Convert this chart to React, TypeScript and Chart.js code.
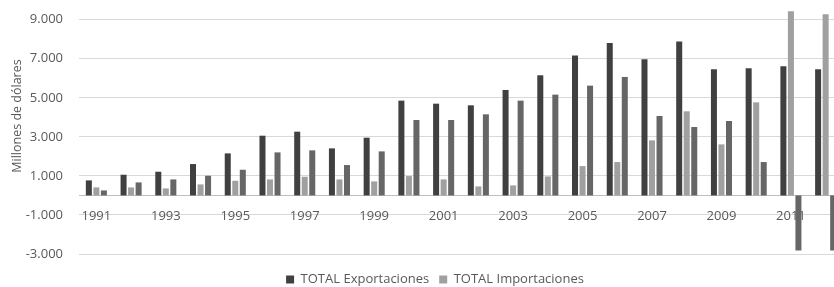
import React, { useEffect, useRef } from 'react';
import { Chart, registerables } from 'chart.js';

Chart.register(...registerables);

const YEARS = ['1991', '1992', '1993', '1994', '1995', '1996', '1997', '1998', '1999', '2000', '2001', '2002', '2003', '2004', '2005', '2006', '2007', '2008', '2009', '2010', '2011', '2012'];
const EXPORTACIONES = [770, 1060, 1214, 1607, 2154, 3060, 3265, 2410, 2957, 4855, 4700, 4615, 5402, 6154, 7162, 7812, 6974, 7880, 6462, 6513, 6615, 6462];
const IMPORTACIONES = [410, 410, 359, 564, 752, 820, 957, 820, 718, 991, 820, 462, 513, 974, 1504, 1709, 2820, 4308, 2615, 4769, 9436, 9282];
const SALDO = [256, 667, 820, 1008, 1316, 2205, 2308, 1556, 2256, 3863, 3863, 4154, 4855, 5162, 5624, 6068, 4068, 3504, 3812, 1709, -2820, -2820];
const Y_TICKS = [-3000, -1000, 1000, 3000, 5000, 7000, 9000];
const Y_MIN = -3000;
const Y_MAX = 9600;
const Y_TITLE = 'Millones de dólares';

const fmt = (v: number) => {
  const s = Math.abs(v).toString().replace(/\B(?=(\d{3})+(?!\d))/g, '.');
  return (v < 0 ? '-' : '') + s;
};

const yTitlePlugin = {
  id: 'yTitle',
  afterDraw(chart: any, _args: any, opts: any) {
    const ctx = chart.ctx;
    ctx.save();
    ctx.translate(opts.x, opts.y);
    ctx.rotate(-Math.PI / 2);
    ctx.fillStyle = opts.color;
    ctx.font = `${opts.size}px "Open Sans", sans-serif`;
    ctx.textAlign = 'center';
    ctx.textBaseline = 'middle';
    ctx.fillText(opts.text, 0, 0);
    ctx.restore();
  },
};

const legendShiftPlugin = {
  id: 'legendShift',
  afterLayout(chart: any, _args: any, opts: any) {
    const lg = chart.legend;
    if (lg) {
      lg.top += opts.dy;
      lg.bottom += opts.dy;
    }
  },
};

export default function App() {
  const ref = useRef<HTMLCanvasElement>(null);
  useEffect(() => {
    if (!ref.current) return;
    Chart.defaults.font.family = '"Open Sans", sans-serif';
    Chart.defaults.color = '#595959';
    const chart = new Chart(ref.current, {
      type: 'bar',
      data: {
        labels: YEARS,
        datasets: [
          { label: 'TOTAL Exportaciones', data: EXPORTACIONES, backgroundColor: '#404040', yAxisID: 'y' },
          { label: 'TOTAL Importaciones', data: IMPORTACIONES, backgroundColor: '#a0a0a0', yAxisID: 'y' },
          { label: 'Saldo', data: SALDO, backgroundColor: '#666666', yAxisID: 'y' },
        ],
      },
      plugins: [yTitlePlugin, legendShiftPlugin],
      options: {
        animation: false,
        responsive: true,
        maintainAspectRatio: false,
        layout: { padding: 0 },
        datasets: { bar: { categoryPercentage: 0.65, barPercentage: 0.8, borderWidth: 0 } },
        plugins: {
          tooltip: { enabled: false },
          yTitle: { text: Y_TITLE, x: 17, y: 116, size: 12.5, color: '#595959' },
          legendShift: { dy: 9 },
          legend: {
            position: 'bottom',
            labels: {
              filter: (item: any) => item.datasetIndex < 2,
              boxWidth: 8,
              boxHeight: 8,
              padding: 10,
              font: { size: 13 },
              color: '#595959',
            },
          },
        } as any,
        scales: {
          x: {
            position: { y: 0 } as any,
            grid: { display: false, drawTicks: false },
            border: { display: true, color: '#bfbfbf' },
            ticks: {
              autoSkip: false,
              maxRotation: 0,
              padding: 13,
              font: { size: 13 },
              color: '#595959',
              callback: (_v: any, i: number) => (i % 2 === 0 ? YEARS[i] : ''),
            },
          },
          y: {
            min: Y_MIN,
            max: Y_MAX,
            afterBuildTicks: (s: any) => {
              s.ticks = Y_TICKS.map((v) => ({ value: v }));
            },
            afterFit: (s: any) => {
              s.width = 79;
              s.paddingTop = 8;
              s.paddingBottom = 8;
            },
            grid: { color: '#d9d9d9', drawTicks: false },
            border: { display: false },
            ticks: { padding: 16, font: { size: 13 }, color: '#595959', callback: (v: any) => fmt(Number(v)) },
          },
          y2: {
            position: 'right',
            grid: { display: false },
            border: { display: false },
            ticks: { display: false },
            afterFit: (s: any) => {
              s.width = 27;
              s.paddingTop = 0;
              s.paddingBottom = 0;
            },
          },
        },
      },
    });
    return () => chart.destroy();
  }, []);
  return (
    <div style={{ position: 'fixed', left: 0, top: 0, width: 834, height: 287, overflow: 'hidden', background: '#fff' }}>
      <div style={{ position: 'relative', width: 870, height: 287 }}>
        <canvas ref={ref} />
      </div>
    </div>
  );
}
